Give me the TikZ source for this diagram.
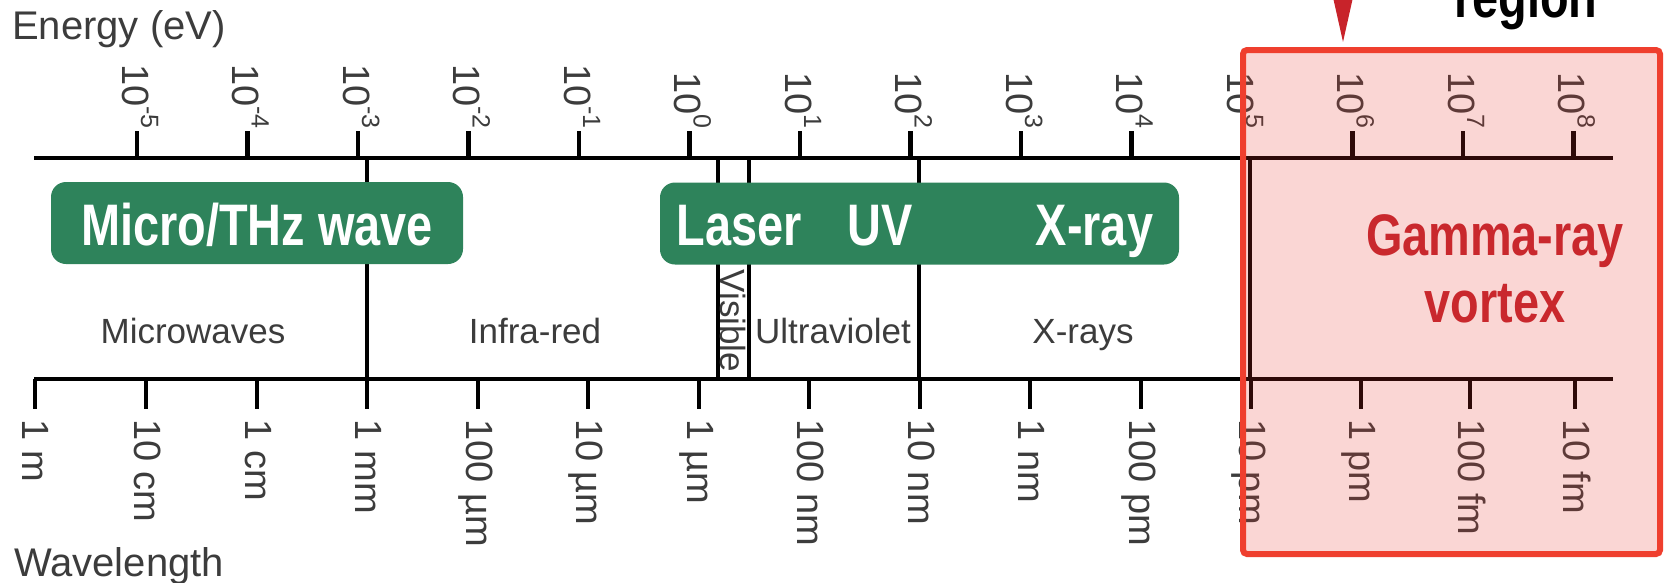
\documentclass[tikz,border=0pt]{standalone}
\usepackage{fontspec}
\setmainfont{Liberation Sans}
\newfontfamily\condfont[UprightFont=* Bold, FakeStretch=0.8]{Liberation Sans}
\usetikzlibrary{arrows.meta}

\definecolor{bandgreen}{RGB}{46,131,91}
\definecolor{labelgray}{RGB}{60,60,60}
\definecolor{boxred}{RGB}{239,63,46}
\definecolor{tintred}{RGB}{232,52,42}
\definecolor{textred}{RGB}{201,40,45}
\definecolor{arrowred}{RGB}{200,35,42}

\newcommand{\tenpow}[1]{10\raisebox{19pt}{\fontsize{25}{25}\selectfont #1}}

\begin{document}
\begin{tikzpicture}[x=1pt, y=-1pt,
        scaleline/.style={line width=4.6pt, black},
        tickline/.style={line width=4.4pt, black},
        divider/.style={line width=4.4pt, black},
        toplabel/.style={rotate=-90, anchor=base east, inner sep=0pt, text=labelgray, font=\fontsize{38}{38}\selectfont},
        botlabel/.style={rotate=-90, anchor=base west, inner sep=0pt, text=labelgray, font=\fontsize{38}{38}\selectfont},
        band/.style={anchor=base, inner sep=0pt, text=labelgray, font=\fontsize{35}{35}\selectfont},
        axistitle/.style={anchor=base west, inner sep=0pt, text=labelgray, font=\fontsize{40}{40}\selectfont},
        greenbox/.style={fill=bandgreen, rounded corners=15pt, minimum height=82pt, inner sep=0pt},
        greentext/.style={anchor=base, inner sep=0pt, text=white, font=\condfont\fontsize{58.6}{58.6}\selectfont},
        gammabox/.style={draw=boxred, line width=6pt, fill=tintred, fill opacity=0.2, rounded corners=4pt, inner sep=0pt},
        redtext/.style={anchor=base, inner sep=0pt, text=textred, font=\condfont\fontsize{58.6}{58.6}\selectfont}
      ]
      \useasboundingbox (0,0) rectangle (1671,582);

      % Axes and dividers
      \draw[scaleline] (34,158) -- (1613,158);
      \draw[scaleline] (34,379) -- (1613,379);
      \foreach \dx in {367,718,749,919,1250}
        \draw[divider] (\dx,158) -- (\dx,379);

      % Energy scale
      \node[axistitle] (energy) at (12,39) {Energy (eV)};
      \foreach \ex [count=\i from 0] in {-5,-4,...,8}{
        \draw[tickline] (137+110.5*\i,131) -- (137+110.5*\i,158);
        \node[toplabel] (e\i) at (122+110.5*\i,129) {\tenpow{\ex}};
      }

      % Wavelength scale
      \node[axistitle] (wavelength) at (14,576) {Wavelength};
      \foreach \wx/\wl [count=\j] in {35/1 m,146/10 cm,257/1 cm,367/1 mm,478/100 µm,588/10 µm,699/1 µm,809/100 nm,920/10 nm,1030/1 nm,1141/100 pm,1251/10 pm,1361/1 pm,1470/100 fm,1575/10 fm}{
        \draw[tickline] (\wx,379) -- (\wx,409);
        \node[botlabel] (w\j) at (\wx-12,419) {\wl};
      }

      % Spectral bands
      \node[band] (mw) at (193,343) {Microwaves};
      \node[band] (ir) at (535,343) {Infra-red};
      \node[band, rotate=-90, anchor=center] (vis) at (733.5,321) {Visible};
      \node[band] (uv) at (833,343) {Ultraviolet};
      \node[band] (xr) at (1083,343) {X-rays};

      % Existing sources
      \node[greenbox, minimum width=412pt] (mthz) at (257,223) {};
      \node[greentext] (mthzlbl) at (257,245) {Micro/THz wave};
      \node[greenbox, minimum width=519pt] (optx) at (919.5,223.5) {};
      \node[greentext] (laser) at (739.5,245) {Laser};
      \node[greentext] (uvlbl) at (880.5,245) {UV};
      \node[greentext] (xray) at (1094.5,245) {X-ray};

      % Gamma-ray region
      \node[gammabox, minimum width=417pt, minimum height=504pt] (gbox) at (1451.5,302) {};
      \node[redtext] (gamma) at (1495,255) {Gamma-ray};
      \node[redtext] (vortex) at (1495,322) {vortex};
      \node[anchor=base west, inner sep=0pt, font=\condfont\fontsize{58.6}{58.6}\selectfont] (region) at (1454,17) {region};
      \coordinate (ptrtail) at (1343,-80);
      \draw[arrowred, line width=2pt, -{Triangle[length=75pt, width=33pt]}, shorten >=5pt] (ptrtail) -- (ptrtail |- gbox.north);

    \end{tikzpicture}
\end{document}
